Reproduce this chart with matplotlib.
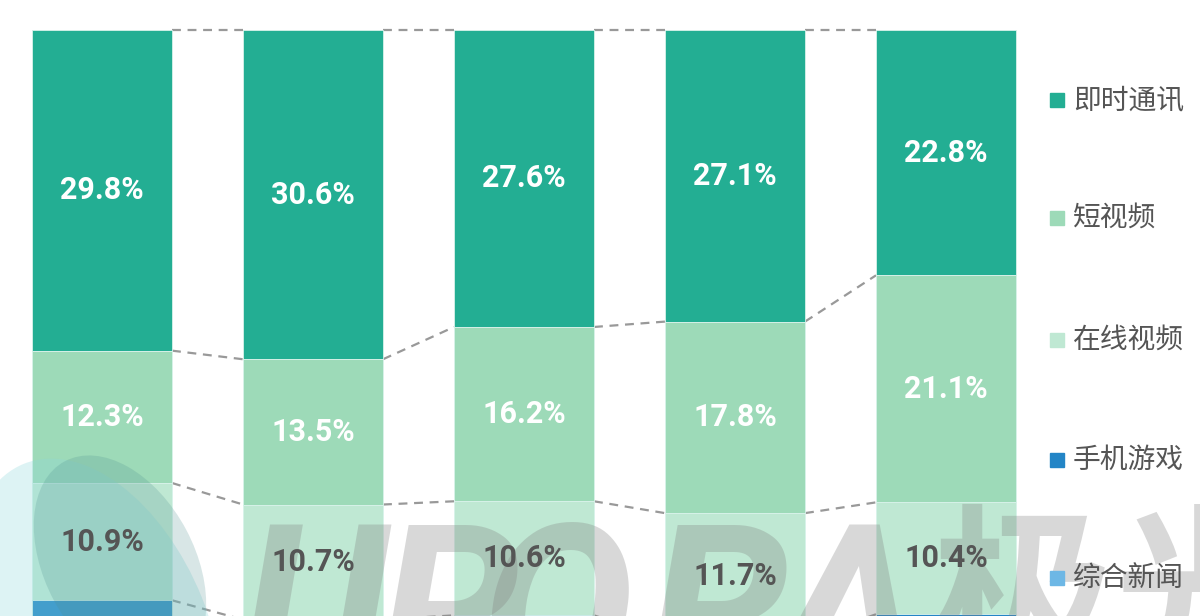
import numpy as np
import matplotlib
matplotlib.use("Agg")
import matplotlib.pyplot as plt
from matplotlib.patches import Rectangle, Ellipse
from matplotlib.transforms import Affine2D

plt.rcParams['font.family'] = ['Roboto', 'Noto Sans CJK SC', 'DejaVu Sans']

# --- dados (de cima para baixo em cada barra) ---
categorias = ['即时通讯', '短视频', '在线视频', '手机游戏', '综合新闻']
im = [29.8, 30.6, 27.6, 27.1, 22.8]
short_video = [12.3, 13.5, 16.2, 17.8, 21.1]
online_video = [10.9, 10.7, 10.6, 11.7, 10.4]
games = [8.6, 8.1, 8.3, 7.9, 8.8]      # cortado na imagem, estimado
news = [5.2, 5.0, 5.1, 5.3, 5.4]       # cortado na imagem, estimado

cores = ['#23AE93', '#9DDAB8', '#BFE8D3', '#2385C6', '#6DB7E5']
cor_rotulo = ['white', 'white', '#555555', 'white', 'white']

series = [im, short_video, online_video, games, news]

W, H = 1200, 616
fig = plt.figure(figsize=(W / 100, H / 100), dpi=100)
ax = fig.add_axes([0, 0, 1, 1])
ax.axis('off')

x = np.arange(len(im))
largura = 140 / 211
ax.set_xlim(-102 / 211, -102 / 211 + W / 211)
ax.set_ylim(100 - 586 / 10.76, 100 + 30 / 10.76)

# empilha de cima (100%) para baixo
topo = np.full(len(x), 100.0)
niveis = [topo.copy()]
for k, (vals, cor, cl) in enumerate(zip(series, cores, cor_rotulo)):
    vals = np.array(vals)
    base = topo - vals
    ax.bar(x, vals, bottom=base, width=largura, color=cor, edgecolor='#d8f2ea',
           linewidth=0.6, zorder=2)
    if k < 3:
        peso = 'bold' if k == 2 else 'semibold'
        for xi, b, v in zip(x, base, vals):
            ax.text(xi, b + v / 2, f"{v:.1f}%", ha='center', va='center',
                    fontsize=22, color=cl, fontweight=peso, zorder=6)
    topo = base
    niveis.append(topo.copy())

# linhas tracejadas ligando as barras
for nivel in niveis[:4]:
    for i in range(len(x) - 1):
        ax.plot([x[i] + largura / 2, x[i + 1] - largura / 2], [nivel[i], nivel[i + 1]],
                color='#999999', linestyle=(0, (4, 3)), linewidth=1.6, zorder=1)

# transformacao em pixels (origem no canto superior esquerdo)
px = Affine2D().scale(1 / 100, -1 / 100).translate(0, H / 100) + fig.dpi_scale_trans

# legenda manual
ys_leg = [100, 218, 340, 460, 578]
for nome, cor, yl in zip(categorias, cores, ys_leg):
    ax.add_patch(Rectangle((1050, yl - 7), 14, 14, color=cor, transform=px,
                           clip_on=False, zorder=6))
    ax.text(1073, yl, nome, transform=px, fontsize=20, color='#555555',
            va='center', ha='left', family=['Noto Sans CJK SC'], zorder=6)

# marca d'agua
ax.add_patch(Ellipse((95, 640), 230, 380, angle=-22, color='#8fd8dc', alpha=0.3,
                     transform=px, clip_on=False, zorder=3, lw=0))
ax.add_patch(Ellipse((120, 565), 150, 235, angle=-28, color='#4f8f8f', alpha=0.22,
                     transform=px, clip_on=False, zorder=3, lw=0))
for letra, xl in zip('URORA', [240, 378, 480, 647, 774]):
    ax.text(xl, 688, letra, transform=px, fontsize=165, fontstyle='italic',
            fontweight='bold', color='#808080', alpha=0.3, ha='left',
            va='baseline', zorder=4)
ax.text(932, 660, '极光', transform=px, fontsize=132, family=['Noto Sans CJK SC'],
        fontweight='bold', color='#808080', alpha=0.3, ha='left', va='baseline',
        zorder=4)

fig.savefig('out.png', dpi=100)
